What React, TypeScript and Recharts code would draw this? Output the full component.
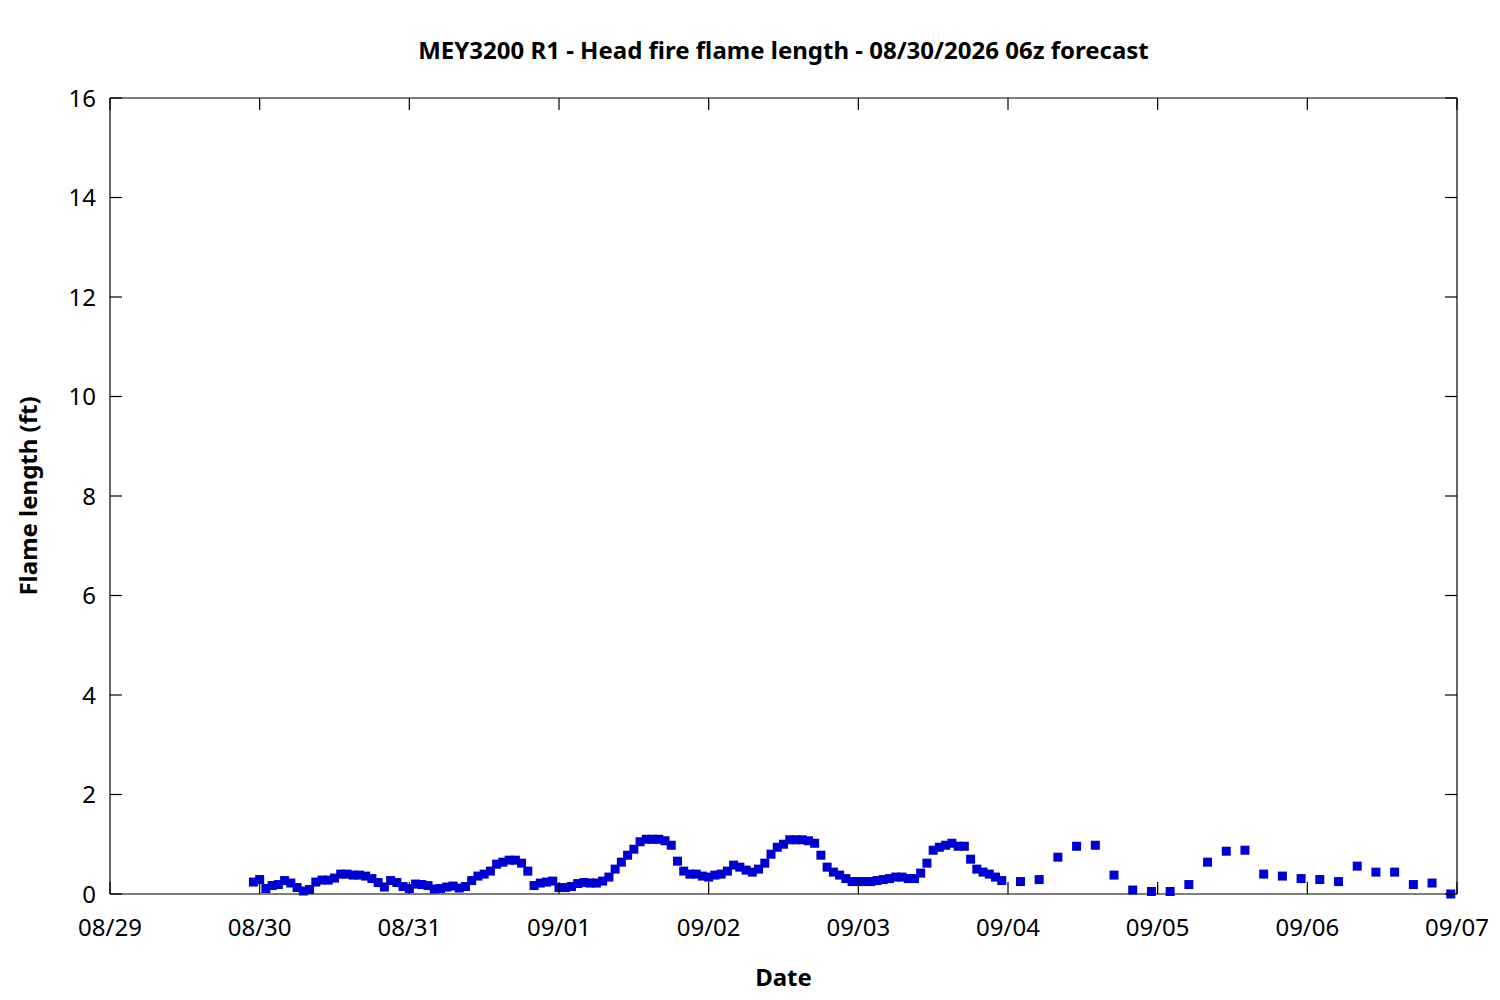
import React from "react";
import { ScatterChart, Scatter, XAxis, YAxis } from "recharts";

// hours since 08/29 00:00
const hourlyStart = 23;
const hourlyValues = [
  0.24, 0.29, 0.11, 0.17, 0.19, 0.27, 0.22, 0.13, 0.06, 0.09,
  0.24, 0.28, 0.28, 0.32, 0.40, 0.40, 0.38, 0.38, 0.36, 0.31,
  0.23, 0.14, 0.27, 0.23, 0.15, 0.11, 0.20, 0.19, 0.17, 0.10,
  0.11, 0.14, 0.16, 0.12, 0.15, 0.27, 0.36, 0.40, 0.46, 0.60,
  0.64, 0.68, 0.68, 0.62, 0.46, 0.17, 0.22, 0.24, 0.26, 0.13,
  0.13, 0.15, 0.21, 0.23, 0.22, 0.22, 0.26, 0.34, 0.50, 0.64,
  0.78, 0.90, 1.05, 1.10, 1.10, 1.10, 1.07, 0.98, 0.66, 0.46,
  0.40, 0.40, 0.36, 0.34, 0.38, 0.40, 0.46, 0.58, 0.54, 0.48,
  0.44, 0.50, 0.62, 0.80, 0.94, 1.00, 1.09, 1.09, 1.09, 1.07,
  1.02, 0.78, 0.54, 0.44, 0.38, 0.31, 0.25, 0.25, 0.25, 0.25,
  0.27, 0.29, 0.31, 0.34, 0.34, 0.31, 0.31, 0.42, 0.62, 0.88,
  0.94, 0.98, 1.02, 0.96, 0.96, 0.70, 0.50, 0.44, 0.40, 0.34,
  0.27,
];
const threeHourlyStart = 146;
const threeHourlyValues = [
  0.25, 0.29, 0.74, 0.96, 0.98, 0.38, 0.08, 0.05, 0.05, 0.19,
  0.64, 0.86, 0.88, 0.40, 0.36, 0.31, 0.29, 0.25, 0.56, 0.44,
  0.44, 0.19, 0.22, 0.0,
];

const xTicks = [0, 24, 48, 72, 96, 120, 144, 168, 192, 216];
const xTickLabels = ["08/29", "08/30", "08/31", "09/01", "09/02", "09/03", "09/04", "09/05", "09/06", "09/07"];
const yTicks = [0, 2, 4, 6, 8, 10, 12, 14, 16];

const data = [
  ...hourlyValues.map((v, i) => ({ t: hourlyStart + i, v })),
  ...threeHourlyValues.map((v, i) => ({ t: threeHourlyStart + i * 3, v })),
];

const FONT = "'Noto Sans', 'Open Sans', sans-serif";
const TICK = 12;
const FS = 24;

const BottomTick = (props: any) => {
  const { x, y, payload } = props;
  const idx = xTicks.indexOf(payload.value);
  return (
    <g>
      <line x1={x} y1={y} x2={x} y2={y - TICK} stroke="#000" strokeWidth={1.2} />
      <text x={x} y={y + 42} textAnchor="middle" fontFamily={FONT} fontSize={FS} fill="#000">
        {xTickLabels[idx]}
      </text>
    </g>
  );
};
const TopTick = (props: any) => {
  const { x, y } = props;
  return <line x1={x} y1={y} x2={x} y2={y + TICK} stroke="#000" strokeWidth={1.2} />;
};
const LeftTick = (props: any) => {
  const { x, y, payload } = props;
  return (
    <g>
      <line x1={x} y1={y} x2={x + TICK} y2={y} stroke="#000" strokeWidth={1.2} />
      <text x={x - 14} y={y + 8.5} textAnchor="end" fontFamily={FONT} fontSize={FS} fill="#000">
        {payload.value}
      </text>
    </g>
  );
};
const RightTick = (props: any) => {
  const { x, y } = props;
  return <line x1={x} y1={y} x2={x - TICK} y2={y} stroke="#000" strokeWidth={1.2} />;
};

const Square = (props: any) => {
  const { cx, cy } = props;
  return <rect x={cx - 4.5} y={cy - 4.5} width={9} height={9} fill="#0000CC" />;
};

export default function App() {
  return (
    <div style={{ position: "absolute", left: 0, top: 0, width: 1500, height: 1000, background: "#fff" }}>
      <ScatterChart width={1500} height={1000} margin={{ top: 88, right: 33, bottom: 76, left: 50 }}>
        <XAxis
          xAxisId="b"
          dataKey="t"
          type="number"
          domain={[0, 216]}
          ticks={xTicks}
          orientation="bottom"
          height={30}
          tickSize={0}
          tickMargin={0}
          tickLine={false}
          tick={<BottomTick />}
          axisLine={{ stroke: "#000", strokeWidth: 1.2 }}
          interval={0}
        />
        <XAxis
          xAxisId="t"
          dataKey="t"
          type="number"
          domain={[0, 216]}
          ticks={xTicks}
          orientation="top"
          height={10}
          tickSize={0}
          tickMargin={0}
          tickLine={false}
          tick={<TopTick />}
          axisLine={{ stroke: "#000", strokeWidth: 1.2 }}
          interval={0}
        />
        <YAxis
          yAxisId="l"
          dataKey="v"
          type="number"
          domain={[0, 16]}
          ticks={yTicks}
          orientation="left"
          width={60}
          tickSize={0}
          tickMargin={0}
          tickLine={false}
          tick={<LeftTick />}
          axisLine={{ stroke: "#000", strokeWidth: 1.2 }}
          interval={0}
        />
        <YAxis
          yAxisId="r"
          dataKey="v"
          type="number"
          domain={[0, 16]}
          ticks={yTicks}
          orientation="right"
          width={10}
          tickSize={0}
          tickMargin={0}
          tickLine={false}
          tick={<RightTick />}
          axisLine={{ stroke: "#000", strokeWidth: 1.2 }}
          interval={0}
        />
        <Scatter
          data={data}
          xAxisId="b"
          yAxisId="l"
          shape={<Square />}
          isAnimationActive={false}
        />
        <Scatter
          data={data}
          xAxisId="t"
          yAxisId="r"
          shape={() => null}
          isAnimationActive={false}
        />
      </ScatterChart>
      <div
        style={{
          position: "absolute", left: 110, width: 1347, top: 34, textAlign: "center",
          fontFamily: FONT, fontWeight: 700, fontSize: 24, lineHeight: "32px", color: "#000",
        }}
      >
        MEY3200 R1 - Head fire flame length - 08/30/2026 06z forecast
      </div>
      <div
        style={{
          position: "absolute", left: 110, width: 1347, top: 961, textAlign: "center",
          fontFamily: FONT, fontWeight: 700, fontSize: 24, lineHeight: "32px", color: "#000",
        }}
      >
        Date
      </div>
      <div
        style={{
          position: "absolute", left: 28 - 200, width: 400, top: 496 - 16, textAlign: "center",
          fontFamily: FONT, fontWeight: 700, fontSize: 24, lineHeight: "32px", color: "#000",
          transform: "rotate(-90deg)", transformOrigin: "200px 16px",
        }}
      >
        Flame length (ft)
      </div>
    </div>
  );
}
